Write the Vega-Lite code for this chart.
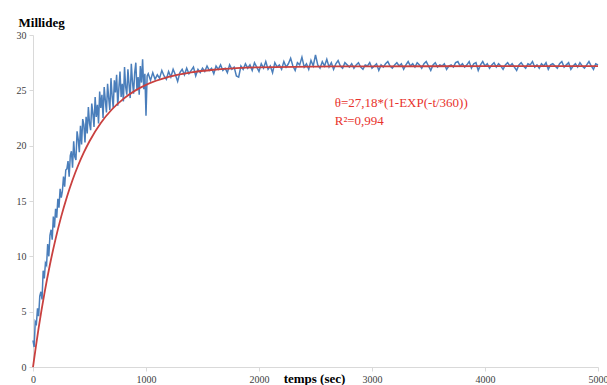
{
  "$schema": "https://vega.github.io/schema/vega-lite/v6.json",
  "width": 565,
  "height": 332,
  "autosize": "none",
  "padding": {"left": 33, "top": 35, "right": 9, "bottom": 18},
  "background": "white",
  "config": {"view": {"stroke": null}, "font": "Liberation Serif"},
  "datasets": {
    "blue": [
      {"t":0,"v":2.4},{"t":10,"v":1.8},{"t":20,"v":4.1},{"t":30,"v":3.9},{"t":40,"v":5.3},{"t":50,"v":4.6},{"t":60,"v":6.4},{"t":70,"v":6.8},{"t":80,"v":6.1},{"t":90,"v":8.7},
      {"t":100,"v":8.0},{"t":110,"v":9.4},{"t":120,"v":9.2},{"t":130,"v":11.1},{"t":140,"v":10.0},{"t":150,"v":11.9},{"t":160,"v":12.4},{"t":170,"v":11.5},{"t":180,"v":13.6},{"t":190,"v":12.6},
      {"t":200,"v":14.3},{"t":210,"v":13.5},{"t":220,"v":15.2},{"t":230,"v":14.4},{"t":240,"v":16.1},{"t":250,"v":15.3},{"t":260,"v":15.9},{"t":270,"v":17.2},{"t":280,"v":16.3},{"t":290,"v":17.8},
      {"t":300,"v":17.9},{"t":310,"v":18.6},{"t":320,"v":17.2},{"t":330,"v":19.1},{"t":340,"v":19.5},{"t":350,"v":18.0},{"t":360,"v":20.4},{"t":370,"v":19.0},{"t":380,"v":18.7},{"t":390,"v":21.3},
      {"t":400,"v":20.6},{"t":410,"v":19.4},{"t":420,"v":21.8},{"t":430,"v":20.1},{"t":440,"v":22.4},{"t":450,"v":21.9},{"t":460,"v":20.3},{"t":470,"v":22.6},{"t":480,"v":21.1},{"t":490,"v":23.5},
      {"t":500,"v":22.0},{"t":510,"v":21.4},{"t":520,"v":23.8},{"t":530,"v":22.9},{"t":540,"v":21.7},{"t":550,"v":24.4},{"t":560,"v":22.6},{"t":570,"v":23.7},{"t":580,"v":22.0},{"t":590,"v":24.9},
      {"t":600,"v":23.4},{"t":610,"v":24.6},{"t":620,"v":22.5},{"t":630,"v":25.3},{"t":640,"v":24.1},{"t":650,"v":23.0},{"t":660,"v":25.6},{"t":670,"v":24.3},{"t":680,"v":23.2},{"t":690,"v":26.1},
      {"t":700,"v":24.5},{"t":710,"v":23.4},{"t":720,"v":25.9},{"t":730,"v":24.8},{"t":740,"v":26.4},{"t":750,"v":23.6},{"t":760,"v":25.2},{"t":770,"v":26.7},{"t":780,"v":24.4},{"t":790,"v":25.6},
      {"t":800,"v":24.0},{"t":810,"v":27.1},{"t":820,"v":25.3},{"t":830,"v":24.6},{"t":840,"v":26.9},{"t":850,"v":25.5},{"t":860,"v":24.3},{"t":870,"v":27.4},{"t":880,"v":25.8},{"t":890,"v":24.7},
      {"t":900,"v":26.6},{"t":910,"v":27.5},{"t":920,"v":25.0},{"t":930,"v":26.2},{"t":940,"v":24.6},{"t":950,"v":27.2},{"t":960,"v":25.7},{"t":970,"v":27.8},{"t":980,"v":25.1},{"t":990,"v":26.5},
      {"t":1000,"v":22.7},{"t":1010,"v":26.3},
      {"t":1020,"v":26.5},{"t":1040,"v":25.9},{"t":1060,"v":26.6},{"t":1080,"v":26.0},{"t":1100,"v":26.4},
      {"t":1120,"v":26.1},{"t":1140,"v":26.8},{"t":1160,"v":26.3},{"t":1180,"v":26.0},{"t":1200,"v":26.7},{"t":1220,"v":26.2},{"t":1240,"v":26.9},{"t":1260,"v":26.4},{"t":1280,"v":25.8},{"t":1300,"v":26.6},
      {"t":1320,"v":26.9},{"t":1340,"v":26.4},{"t":1360,"v":27.0},{"t":1380,"v":26.5},{"t":1400,"v":26.8},{"t":1420,"v":27.1},{"t":1440,"v":26.3},{"t":1460,"v":26.9},{"t":1480,"v":26.6},{"t":1500,"v":27.0},
      {"t":1520,"v":26.7},{"t":1540,"v":27.2},{"t":1560,"v":26.8},{"t":1580,"v":27.0},{"t":1600,"v":26.5},{"t":1620,"v":27.2},{"t":1640,"v":26.9},{"t":1660,"v":27.3},{"t":1680,"v":26.8},{"t":1700,"v":27.0},
      {"t":1720,"v":26.6},{"t":1740,"v":27.3},{"t":1760,"v":26.9},{"t":1780,"v":27.1},{"t":1800,"v":26.3},
      {"t":1820,"v":26.2},{"t":1840,"v":27.2},{"t":1860,"v":26.9},{"t":1880,"v":27.4},{"t":1900,"v":27.0},{"t":1920,"v":27.3},{"t":1940,"v":26.8},{"t":1960,"v":27.5},{"t":1980,"v":27.1},{"t":2000,"v":26.7},
      {"t":2020,"v":27.4},{"t":2040,"v":27.0},{"t":2060,"v":27.6},{"t":2080,"v":26.9},{"t":2100,"v":27.2},{"t":2120,"v":26.6},{"t":2140,"v":27.5},{"t":2160,"v":27.1},{"t":2180,"v":27.3},{"t":2200,"v":26.9},
      {"t":2220,"v":27.6},{"t":2240,"v":27.1},{"t":2260,"v":27.4},{"t":2280,"v":27.9},{"t":2300,"v":27.2},{"t":2320,"v":26.8},{"t":2340,"v":27.5},{"t":2360,"v":27.3},{"t":2380,"v":28.0},{"t":2400,"v":27.1},
      {"t":2420,"v":27.4},{"t":2440,"v":26.9},{"t":2460,"v":27.7},{"t":2480,"v":27.2},{"t":2500,"v":28.2},{"t":2520,"v":27.3},{"t":2540,"v":27.0},{"t":2560,"v":27.6},{"t":2580,"v":27.2},{"t":2600,"v":27.8},
      {"t":2620,"v":27.1},{"t":2640,"v":27.5},{"t":2660,"v":26.9},{"t":2680,"v":27.4},{"t":2700,"v":27.7},{"t":2720,"v":27.2},{"t":2740,"v":27.0},{"t":2760,"v":27.5},{"t":2780,"v":27.3},{"t":2800,"v":27.1},
      {"t":2820,"v":27.4},{"t":2840,"v":27.0},{"t":2860,"v":27.3},{"t":2880,"v":27.5},{"t":2900,"v":27.1},{"t":2920,"v":26.9},{"t":2940,"v":27.3},{"t":2960,"v":27.2},{"t":2980,"v":27.5},{"t":3000,"v":27.0},
      {"t":3020,"v":27.2},{"t":3040,"v":27.4},{"t":3060,"v":26.8},{"t":3080,"v":27.3},{"t":3100,"v":27.1},{"t":3120,"v":27.4},{"t":3140,"v":27.6},{"t":3160,"v":27.2},{"t":3180,"v":27.0},{"t":3200,"v":27.3},
      {"t":3220,"v":27.5},{"t":3240,"v":27.2},{"t":3260,"v":27.4},{"t":3280,"v":26.9},{"t":3300,"v":27.3},{"t":3320,"v":27.6},{"t":3340,"v":27.2},{"t":3360,"v":27.4},{"t":3380,"v":27.1},{"t":3400,"v":27.5},
      {"t":3420,"v":27.3},{"t":3440,"v":27.0},{"t":3460,"v":27.4},{"t":3480,"v":27.6},{"t":3500,"v":27.2},{"t":3520,"v":26.8},{"t":3540,"v":27.3},{"t":3560,"v":27.5},{"t":3580,"v":27.1},{"t":3600,"v":27.3},
      {"t":3620,"v":27.2},{"t":3640,"v":27.4},{"t":3660,"v":26.9},{"t":3680,"v":27.2},{"t":3700,"v":27.3},{"t":3720,"v":27.1},{"t":3740,"v":27.5},{"t":3760,"v":27.6},{"t":3780,"v":27.2},{"t":3800,"v":27.4},
      {"t":3820,"v":27.1},{"t":3840,"v":27.3},{"t":3860,"v":27.6},{"t":3880,"v":27.0},{"t":3900,"v":27.4},{"t":3920,"v":27.5},{"t":3940,"v":26.8},{"t":3960,"v":27.3},{"t":3980,"v":27.6},{"t":4000,"v":27.2},
      {"t":4020,"v":27.4},{"t":4040,"v":27.0},{"t":4060,"v":27.3},{"t":4080,"v":27.5},{"t":4100,"v":27.1},{"t":4120,"v":27.4},{"t":4140,"v":27.2},{"t":4160,"v":26.9},{"t":4180,"v":27.3},{"t":4200,"v":27.5},
      {"t":4220,"v":27.2},{"t":4240,"v":27.4},{"t":4260,"v":27.1},{"t":4280,"v":26.8},{"t":4300,"v":27.3},{"t":4320,"v":27.5},{"t":4340,"v":27.2},{"t":4360,"v":27.0},{"t":4380,"v":27.4},{"t":4400,"v":27.3},
      {"t":4420,"v":27.6},{"t":4440,"v":27.1},{"t":4460,"v":27.3},{"t":4480,"v":27.0},{"t":4500,"v":27.4},{"t":4520,"v":27.2},{"t":4540,"v":27.5},{"t":4560,"v":26.9},{"t":4580,"v":27.3},{"t":4600,"v":27.4},
      {"t":4620,"v":27.2},{"t":4640,"v":27.0},{"t":4660,"v":27.4},{"t":4680,"v":27.6},{"t":4700,"v":27.1},{"t":4720,"v":27.3},{"t":4740,"v":27.5},{"t":4760,"v":26.9},{"t":4780,"v":27.2},{"t":4800,"v":27.4},
      {"t":4820,"v":27.1},{"t":4840,"v":27.5},{"t":4860,"v":27.2},{"t":4880,"v":27.0},{"t":4900,"v":27.3},{"t":4920,"v":27.6},{"t":4940,"v":27.2},{"t":4960,"v":26.9},{"t":4980,"v":27.4},{"t":5000,"v":27.3}
    ],
    "red": [
      {"t":0,"v":0},{"t":25,"v":1.82},{"t":50,"v":3.53},{"t":75,"v":5.11},{"t":100,"v":6.59},{"t":150,"v":9.26},{"t":200,"v":11.58},{"t":250,"v":13.61},{"t":300,"v":15.37},{"t":350,"v":16.9},
      {"t":400,"v":18.23},{"t":450,"v":19.39},{"t":500,"v":20.4},{"t":600,"v":22.05},{"t":700,"v":23.29},{"t":800,"v":24.23},{"t":900,"v":24.95},{"t":1000,"v":25.49},{"t":1200,"v":26.21},{"t":1400,"v":26.62},
      {"t":1600,"v":26.86},{"t":1800,"v":27.0},{"t":2000,"v":27.08},{"t":2500,"v":27.15},{"t":3000,"v":27.17},{"t":4000,"v":27.18},{"t":5000,"v":27.18}
    ],
    "label": [
      {"t":2670,"v":23.85,"txt":"θ=27,18*(1-EXP(-t/360))"},
      {"t":2670,"v":22.25,"txt":"R²=0,994"}
    ]
  },
  "encoding": {
    "x": {
      "field": "t", "type": "quantitative",
      "scale": {"domain": [0, 5000], "nice": false, "zero": false},
      "axis": {
        "values": [0, 1000, 2000, 3000, 4000, 5000],
        "format": "d",
        "grid": false,
        "domainColor": "#d9d9d9", "tickColor": "#d9d9d9", "tickSize": 4,
        "labelFont": "Liberation Serif", "labelFontSize": 10, "labelColor": "#404040", "labelPadding": 3,
        "labelFlush": false,
        "title": "temps (sec)", "titleFont": "Liberation Serif", "titleFontSize": 13, "titleFontWeight": "bold", "titleColor": "#000000",
        "titleAnchor": null, "titleX": 281, "titleY": 15, "titleBaseline": "alphabetic", "titleAlign": "center"
      }
    },
    "y": {
      "field": "v", "type": "quantitative",
      "scale": {"domain": [0, 30], "nice": false},
      "axis": {
        "values": [0, 5, 10, 15, 20, 25, 30],
        "grid": false,
        "domainColor": "#d9d9d9", "tickColor": "#d9d9d9", "tickSize": 4,
        "labelFont": "Liberation Serif", "labelFontSize": 10, "labelColor": "#404040", "labelPadding": 3,
        "title": "Millideg", "titleFont": "Liberation Serif", "titleFontSize": 13, "titleFontWeight": "bold", "titleColor": "#000000",
        "titleAngle": 0, "titleAlign": "left", "titleBaseline": "middle", "titleX": -15, "titleY": -13
      }
    }
  },
  "layer": [
    {
      "data": {"name": "blue"},
      "mark": {"type": "line", "color": "#4a7ebb", "strokeWidth": 1.5}
    },
    {
      "data": {"name": "red"},
      "mark": {"type": "line", "color": "#c9403f", "strokeWidth": 1.8, "interpolate": "monotone"}
    },
    {
      "data": {"name": "label"},
      "mark": {"type": "text", "color": "#e8322c", "font": "Liberation Serif", "fontSize": 13, "align": "left", "baseline": "middle"},
      "encoding": {"text": {"field": "txt"}}
    }
  ]
}
